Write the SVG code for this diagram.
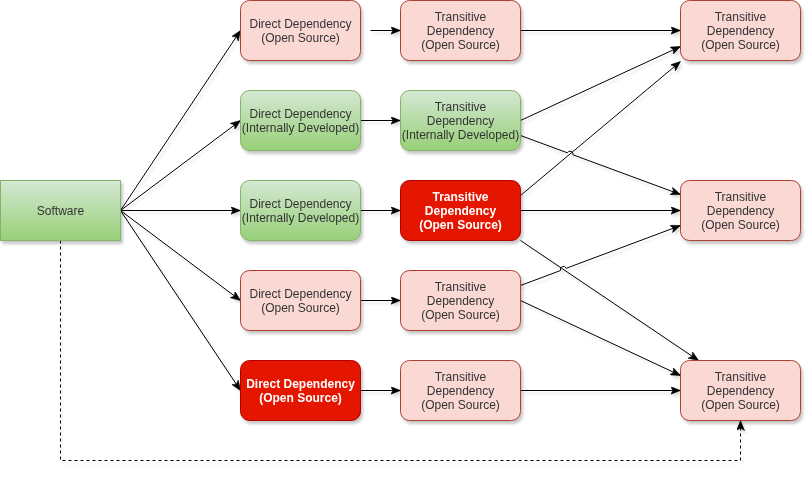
<svg xmlns="http://www.w3.org/2000/svg" width="812" height="480" viewBox="0 0 812 480">
<defs>
<linearGradient id="gGreen" x1="0" y1="0" x2="0" y2="1">
<stop offset="0" stop-color="#d5e8d4"/>
<stop offset="1" stop-color="#97d077"/>
</linearGradient>
<filter id="shadow" x="-10%" y="-10%" width="130%" height="140%">
<feDropShadow dx="2" dy="3" stdDeviation="1.5" flood-color="#000" flood-opacity="0.22"/>
</filter>
<filter id="eshadow" x="-5%" y="-5%" width="110%" height="110%">
<feDropShadow dx="2" dy="3" stdDeviation="1" flood-color="#000" flood-opacity="0.12"/>
</filter>
<marker id="arrow" markerUnits="userSpaceOnUse" viewBox="0 0 10 8" refX="10" refY="4" markerWidth="10" markerHeight="8" orient="auto">
<path d="M0,0 L10,4 L0,8 L2.5,4 Z" fill="#000" stroke="#000" stroke-width="0.5"/>
</marker>
<style>
.node { filter: url(#shadow); }
.pink { fill: #fad9d5; stroke: #ae4132; stroke-width: 1; }
.green { fill: url(#gGreen); stroke: #82b366; stroke-width: 1; }
.red { fill: #e51400; stroke: #b20000; stroke-width: 1; }
text { font-family: "Liberation Sans", Arial, Helvetica, sans-serif; font-size: 12px; text-anchor: middle; dominant-baseline: central; fill: #333333; }
text.w { fill: #ffffff; font-weight: bold; }
.edge { fill: none; stroke: #000; stroke-width: 1; marker-end: url(#arrow); }
.dash { stroke-dasharray: 3 3; }
</style>
</defs>
<rect width="812" height="480" fill="#ffffff"/>
<g transform="translate(0.5,0.5)">
<g id="connectors" filter="url(#eshadow)">
<path class="edge" d="M120,210 L240,30"/>
<path class="edge" d="M120,210 L240,120"/>
<path class="edge" d="M120,210 L240,210"/>
<path class="edge" d="M120,210 L240,300"/>
<path class="edge" d="M120,210 L240,390"/>
<path class="edge" d="M370,30 L400,30"/>
<path class="edge" d="M360,120 L400,120"/>
<path class="edge" d="M360,210 L400,210"/>
<path class="edge" d="M360,300 L400,300"/>
<path class="edge" d="M360,390 L400,390"/>
<path class="edge" d="M520,30 L680,30"/>
<path class="edge" d="M520,120 L680,46"/>
<path class="edge" d="M520,195 L680,61"/>
<path class="edge" d="M520,135 L566.9,152.3 A3,3 0 0 1 572.5,154.3 L680,194"/>
<path class="edge" d="M520,210 L680,210"/>
<path class="edge" d="M520,240 L698,360"/>
<path class="edge" d="M520,285 L560.1,270 A3,3 0 0 1 565.7,267.8 L680,225"/>
<path class="edge" d="M520,300 L680,375"/>
<path class="edge" d="M520,390 L680,390"/>
<path class="edge dash" d="M60,240 L60,460 L740,460 L740,420"/>
</g>

<g id="software" class="node">
<rect x="0" y="180" width="120" height="60" class="green"/>
<text x="60" y="210.5">Software</text>
</g>

<g id="direct-os-1" class="node">
<rect x="240" y="0" width="120" height="60" rx="9" ry="9" class="pink"/>
<text x="300" y="23.3">Direct Dependency</text>
<text x="300" y="37.7">(Open Source)</text>
</g>
<g id="direct-int-1" class="node">
<rect x="240" y="90" width="120" height="60" rx="9" ry="9" class="green"/>
<text x="300" y="113.3">Direct Dependency</text>
<text x="300" y="127.7">(Internally Developed)</text>
</g>
<g id="direct-int-2" class="node">
<rect x="240" y="180" width="120" height="60" rx="9" ry="9" class="green"/>
<text x="300" y="203.3">Direct Dependency</text>
<text x="300" y="217.7">(Internally Developed)</text>
</g>
<g id="direct-os-2" class="node">
<rect x="240" y="270" width="120" height="60" rx="9" ry="9" class="pink"/>
<text x="300" y="293.3">Direct Dependency</text>
<text x="300" y="307.7">(Open Source)</text>
</g>
<g id="direct-os-vuln" class="node">
<rect x="240" y="360" width="120" height="60" rx="9" ry="9" class="red"/>
<text class="w" x="300" y="383.3">Direct Dependency</text>
<text class="w" x="300" y="397.7">(Open Source)</text>
</g>

<g id="trans-os-1" class="node">
<rect x="400" y="0" width="120" height="60" rx="9" ry="9" class="pink"/>
<text x="460" y="16">Transitive</text>
<text x="460" y="30.4">Dependency</text>
<text x="460" y="44.8">(Open Source)</text>
</g>
<g id="trans-int-1" class="node">
<rect x="400" y="90" width="120" height="60" rx="9" ry="9" class="green"/>
<text x="460" y="106">Transitive</text>
<text x="460" y="120.4">Dependency</text>
<text x="460" y="134.8">(Internally Developed)</text>
</g>
<g id="trans-os-vuln" class="node">
<rect x="400" y="180" width="120" height="60" rx="9" ry="9" class="red"/>
<text class="w" x="460" y="196">Transitive</text>
<text class="w" x="460" y="210.4">Dependency</text>
<text class="w" x="460" y="224.8">(Open Source)</text>
</g>
<g id="trans-os-2" class="node">
<rect x="400" y="270" width="120" height="60" rx="9" ry="9" class="pink"/>
<text x="460" y="286">Transitive</text>
<text x="460" y="300.4">Dependency</text>
<text x="460" y="314.8">(Open Source)</text>
</g>
<g id="trans-os-3" class="node">
<rect x="400" y="360" width="120" height="60" rx="9" ry="9" class="pink"/>
<text x="460" y="376">Transitive</text>
<text x="460" y="390.4">Dependency</text>
<text x="460" y="404.8">(Open Source)</text>
</g>

<g id="trans2-os-1" class="node">
<rect x="680" y="0" width="120" height="60" rx="9" ry="9" class="pink"/>
<text x="740" y="16">Transitive</text>
<text x="740" y="30.4">Dependency</text>
<text x="740" y="44.8">(Open Source)</text>
</g>
<g id="trans2-os-2" class="node">
<rect x="680" y="180" width="120" height="60" rx="9" ry="9" class="pink"/>
<text x="740" y="196">Transitive</text>
<text x="740" y="210.4">Dependency</text>
<text x="740" y="224.8">(Open Source)</text>
</g>
<g id="trans2-os-3" class="node">
<rect x="680" y="360" width="120" height="60" rx="9" ry="9" class="pink"/>
<text x="740" y="376">Transitive</text>
<text x="740" y="390.4">Dependency</text>
<text x="740" y="404.8">(Open Source)</text>
</g>
</g>
</svg>
